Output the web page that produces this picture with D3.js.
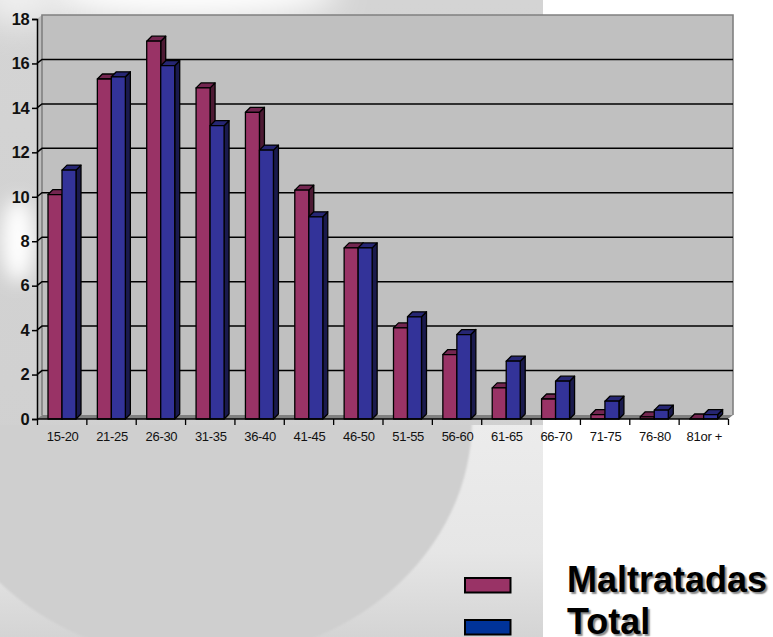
<!DOCTYPE html>
<html><head><meta charset="utf-8">
<style>
html,body{margin:0;padding:0;background:#fff;overflow:hidden}
svg{display:block}
text{font-family:"Liberation Sans",Arial,sans-serif}
.xa text{font-size:13px;letter-spacing:-.3px;fill:#111}
.ya text{font-size:16.5px;font-weight:bold;fill:#111;letter-spacing:-.6px}
.leg{font-size:36px;font-weight:bold;fill:#000;text-shadow:2px 2px 1.5px #888}
</style></head><body>
<script src="https://cdn.jsdelivr.net/npm/d3@7/dist/d3.min.js"></script>
<script>
const categories=["15-20","21-25","26-30","31-35","36-40","41-45","46-50","51-55","56-60","61-65","66-70","71-75","76-80","81or +"];
const maltratadas=[10.1,15.3,17,14.9,13.8,10.3,7.7,4.1,2.9,1.4,0.9,0.2,0.1,0];
const total=[11.2,15.4,15.9,13.2,12.1,9.1,7.7,4.6,3.8,2.6,1.7,0.8,0.4,0.2];
const seriesNames=["Maltratadas","Total"];
const yTicks=[0,2,4,6,8,10,12,14,16,18];

const W=773,H=637,L=37,R=728,T=19,B=419,dx=5,dy=-4,bdx=5,bdy=-5;
const svg=d3.select("body").append("svg").attr("width",W).attr("height",H);
const defs=svg.append("defs");
defs.append("clipPath").attr("id","pg").append("rect").attr("width",543).attr("height",H);
defs.append("clipPath").attr("id","lowclip").append("rect").attr("y",425).attr("width",543).attr("height",212);
const g2=defs.append("linearGradient").attr("id","low").attr("x1",0).attr("x2",0).attr("y1",0).attr("y2",1);
[[0,"#ececec"],[.6,"#e6e6e6"],[1,"#d4d4d4"]].forEach(s=>g2.append("stop").attr("offset",s[0]).attr("stop-color",s[1]));
const g3=defs.append("linearGradient").attr("id","left").attr("x1",0).attr("x2",0).attr("y1",0).attr("y2",1);
[[0,"#d4d4d4"],[1,"#cfcfcf"]].forEach(s=>g3.append("stop").attr("offset",s[0]).attr("stop-color",s[1]));
const blur=defs.append("filter").attr("id","b").attr("x","-60%").attr("y","-60%").attr("width","220%").attr("height","220%");
blur.append("feGaussianBlur").attr("stdDeviation",16);
const blur2=defs.append("filter").attr("id","b2").attr("x","-60%").attr("y","-60%").attr("width","220%").attr("height","220%");
blur2.append("feGaussianBlur").attr("stdDeviation",9);
const blur3=defs.append("filter").attr("id","b3").attr("x","-10%").attr("y","-10%").attr("width","120%").attr("height","120%");
blur3.append("feGaussianBlur").attr("stdDeviation",1);

const bg=svg.append("g").attr("clip-path","url(#pg)");
bg.append("rect").attr("width",543).attr("height",H).attr("fill","url(#left)");
bg.append("ellipse").attr("cx",190).attr("cy",-8).attr("rx",150).attr("ry",28).attr("fill","#ffffff").attr("filter","url(#b)");
bg.append("ellipse").attr("cx",18).attr("cy",-5).attr("rx",40).attr("ry",30).attr("fill","#f0f0f0").attr("filter","url(#b)");
bg.append("ellipse").attr("cx",18).attr("cy",240).attr("rx",16).attr("ry",42).attr("fill","#ffffff").attr("filter","url(#b2)");
const low=bg.append("g").attr("clip-path","url(#lowclip)");
low.append("rect").attr("x",0).attr("y",425).attr("width",543).attr("height",212).attr("fill","url(#low)");
low.append("ellipse").attr("cx",200).attr("cy",420).attr("rx",272).attr("ry",240).attr("fill","#cfcfcf").attr("filter","url(#b3)");

const x=d3.scaleBand().domain(categories).range([L,R]);
const xEdge=d3.scaleLinear().domain([0,categories.length]).range([L,R]);
const y=d3.scaleLinear().domain([0,18]).range([B,T]);
const bw=14, off=11;

// walls
svg.append("polygon").attr("points",[[L+dx,T+dy],[R+dx,T+dy],[R+dx,B+dy],[L+dx,B+dy]].join(" ")).attr("fill","#c0c0c0");
svg.append("polygon").attr("points",[[L,T],[L+dx,T+dy],[L+dx,B+dy],[L,B]].join(" ")).attr("fill","#bcbcbc");
svg.append("polygon").attr("points",[[L,B],[L+dx,B+dy],[R+dx,B+dy],[R,B]].join(" ")).attr("fill","#808080");
svg.append("path").attr("d",`M${L+dx},${B+dy}V${T+dy}H${R+dx}V${B+dy}`).attr("fill","none").attr("stroke","#808080").attr("stroke-width",1.6);

// gridlines
svg.append("g").selectAll("path").data(yTicks.filter(d=>d>0&&d<18)).join("path")
 .attr("d",d=>`M${L},${y(d)}L${L+dx},${y(d)+dy}H${R+dx}`)
 .attr("fill","none").attr("stroke","#000").attr("stroke-width",1.5);

// bars
const series=[{v:maltratadas,f:"#993366",t:"#732650",s:"#4d1a33",o:off},{v:total,f:"#333399",t:"#262673",s:"#1a1a4d",o:off+bw}];
categories.forEach((c,i)=>{
  series.forEach(sr=>{
    const v=sr.v[i], x0=x(c)+sr.o, x1=x0+bw, yt=y(v), g=svg.append("g").attr("stroke","#000").attr("stroke-width",1.3).attr("stroke-linejoin","round");
    g.append("polygon").attr("points",[[x1,yt],[x1+bdx,yt+bdy],[x1+bdx,B+bdy],[x1,B]].join(" ")).attr("fill",sr.s);
    g.append("polygon").attr("points",[[x0,yt],[x0+bdx,yt+bdy],[x1+bdx,yt+bdy],[x1,yt]].join(" ")).attr("fill",sr.t);
    g.append("rect").attr("x",x0).attr("y",yt).attr("width",bw).attr("height",B-yt).attr("fill",sr.f);
  });
});

// axes
const ya=svg.append("g").attr("class","ya").attr("transform",`translate(${L},0)`)
 .call(d3.axisLeft(y).tickValues(yTicks).tickSize(5).tickPadding(3).tickFormat(d3.format("d")));
ya.selectAll("line,path").attr("stroke","#000").attr("stroke-width",1.5);
const xt=svg.append("g").attr("transform",`translate(0,${B})`)
 .call(d3.axisBottom(xEdge).tickValues(d3.range(categories.length+1)).tickSize(6).tickFormat(""));
xt.selectAll("line,path").attr("stroke","#000").attr("stroke-width",1.3);
xt.select("path").attr("d",`M${L},0H${R}`);
const xl=svg.append("g").attr("class","xa").attr("transform",`translate(1,${B+5})`)
 .call(d3.axisBottom(x).tickSize(0).tickPadding(8));
xl.select("path").remove();

// legend
const legY=d3.scalePoint().domain(seriesNames).range([585,627]);
const legC=["#993366","#003399"];
seriesNames.forEach((n,i)=>{
  svg.append("rect").attr("x",465).attr("y",legY(n)-7).attr("width",45.5).attr("height",14.5)
    .attr("fill",legC[i]).attr("stroke","#000").attr("stroke-width",2);
  svg.append("text").attr("class","leg").attr("x",567).attr("y",legY(n)+7).text(n);
});
</script></body></html>
